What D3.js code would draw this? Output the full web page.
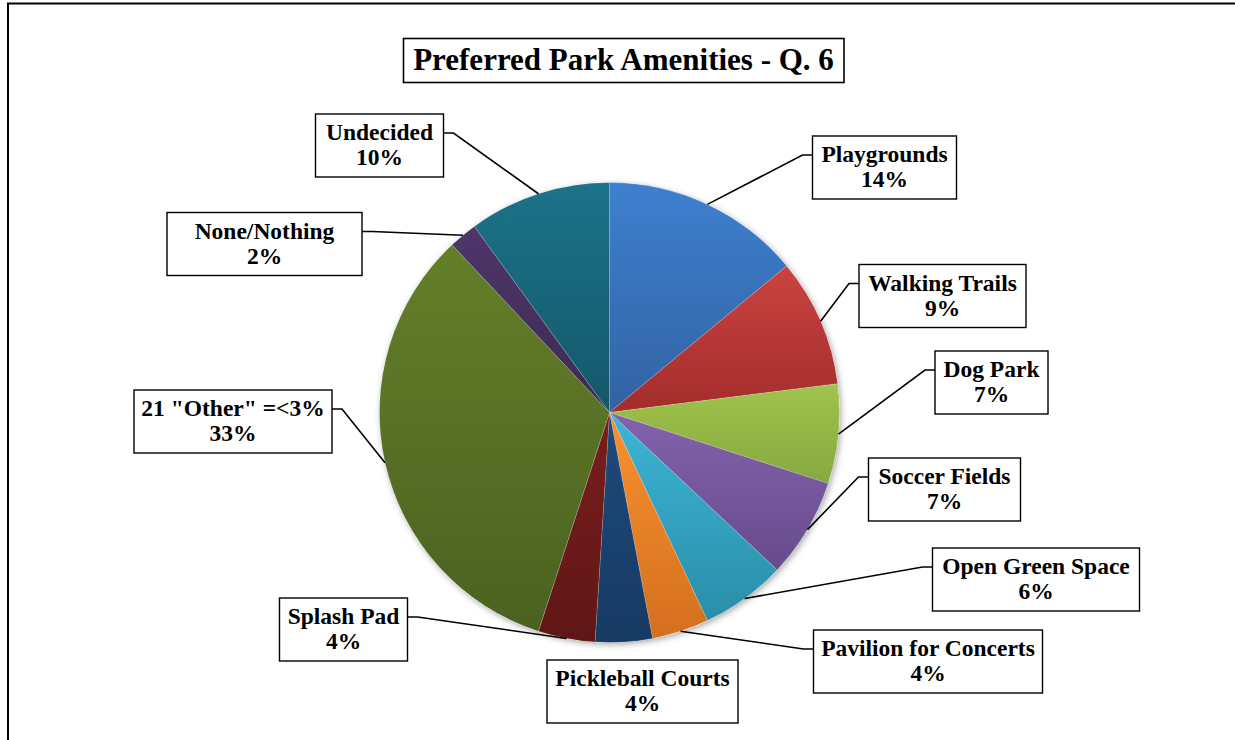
<!DOCTYPE html>
<html>
<head>
<meta charset="utf-8">
<script src="https://cdn.jsdelivr.net/npm/d3@7"></script>
<style>
  html, body { margin: 0; padding: 0; background: #fff; }
  svg { display: block; }
</style>
</head>
<body>
<svg id="chart" width="1235" height="740"></svg>
<script>
const title = "Preferred Park Amenities - Q. 6";
const categories = ["Playgrounds", "Walking Trails", "Dog Park", "Soccer Fields", "Open Green Space",
  "Pavilion for Concerts", "Pickleball Courts", "Splash Pad", "21 \"Other\" =<3%", "None/Nothing", "Undecided"];
const values = [14, 9, 7, 7, 6, 4, 4, 4, 33, 2, 10];
const colorsTop = ["#3e80cf", "#cb4340", "#a0c44c", "#8263ad", "#3db5d6", "#f8922f", "#1e4a7d", "#7a1e1c", "#647f29", "#4e3669", "#1c7389"];
const colorsBottom = ["#3262a3", "#a22d2c", "#87a83f", "#674b8c", "#2a8ea9", "#d46f1f", "#173a63", "#5e1716", "#4b6120", "#3c2a52", "#145769"];
const showLeader = [true, true, true, true, true, true, false, true, true, true, true];
// label box centers, as offsets from the pie centre (layout)
const labelOffsets = [[275, -245], [333, -116.5], [382, -30], [335, 77], [426.5, 167], [318.5, 249],
  [33, 279], [-266, 217], [-376.5, 9], [-345, -168.5], [-230, -267]];
// label box widths (layout)
const boxWidths = [144, 167, 113, 152, 207, 229, 191, 128, 198, 195, 128];

const W = 1235, H = 740;
const cx = 609.5, cy = 412.5, R = 230;
const svg = d3.select("#chart");
const FONT = "'Liberation Serif', 'Times New Roman', serif";

// outer frame
svg.append("rect").attr("x", 8).attr("y", 3.5).attr("width", W + 20).attr("height", H + 20)
  .attr("fill", "none").attr("stroke", "#000").attr("stroke-width", 2);

const defs = svg.append("defs");
const shadow = defs.append("filter").attr("id", "shadow").attr("x", "-10%").attr("y", "-10%").attr("width", "120%").attr("height", "120%");
shadow.append("feDropShadow").attr("dx", 1.5).attr("dy", 2).attr("stdDeviation", 3)
  .attr("flood-color", "#000").attr("flood-opacity", 0.35);

values.forEach((v, i) => {
  const g = defs.append("linearGradient").attr("id", "grad" + i)
    .attr("x1", 0).attr("y1", 0).attr("x2", 0).attr("y2", 1);
  g.append("stop").attr("offset", "0%").attr("stop-color", colorsTop[i]);
  g.append("stop").attr("offset", "100%").attr("stop-color", colorsBottom[i]);
});

// title
const tg = svg.append("g");
tg.append("rect").attr("x", 403.5).attr("y", 38.5).attr("width", 440.5).attr("height", 44)
  .attr("fill", "#fff").attr("stroke", "#000").attr("stroke-width", 1.6);
tg.append("text").attr("x", 623.5).attr("y", 70).attr("text-anchor", "middle")
  .attr("font-family", FONT).attr("font-weight", "bold").attr("font-size", 31).attr("fill", "#000").text(title);

// pie
const pie = d3.pie().sort(null).value(d => d);
const arcs = pie(values);
const arc = d3.arc().innerRadius(0).outerRadius(R);

const pg = svg.append("g").attr("transform", `translate(${cx},${cy})`);
const shadowG = pg.append("g").attr("filter", "url(#shadow)");
shadowG.append("circle").attr("r", R).attr("fill", "#fff");
pg.selectAll("path.slice").data(arcs).enter().append("path")
  .attr("class", "slice")
  .attr("d", arc)
  .attr("fill", (d, i) => `url(#grad${i})`)
  .attr("stroke", "rgba(255,255,255,0.3)").attr("stroke-width", 0.5);

// labels
const lg = svg.append("g");
arcs.forEach((d, i) => {
  const bx = cx + labelOffsets[i][0], by = cy + labelOffsets[i][1];
  const w = boxWidths[i], h = 63;
  const left = bx - w / 2, right = bx + w / 2, top = by - h / 2;
  if (showLeader[i]) {
    const mid = (d.startAngle + d.endAngle) / 2;
    const px = cx + R * Math.sin(mid), py = cy - R * Math.cos(mid);
    const onRight = bx > cx;
    const sx = onRight ? left : right;
    const sy = top + 19;
    const ex = onRight ? sx - 10 : sx + 10;
    lg.append("path").attr("d", `M${sx},${sy}L${ex},${sy}L${px},${py}`)
      .attr("fill", "none").attr("stroke", "#000").attr("stroke-width", 1.6);
  }
  const g = lg.append("g");
  g.append("rect").attr("x", left).attr("y", top).attr("width", w).attr("height", h)
    .attr("fill", "#fff").attr("stroke", "#000").attr("stroke-width", 1.4);
  g.append("text").attr("x", bx).attr("y", top + 26.3).attr("text-anchor", "middle")
    .attr("font-family", FONT).attr("font-weight", "bold").attr("font-size", 23.5).attr("fill", "#000")
    .text(categories[i]);
  g.append("text").attr("x", bx).attr("y", top + 51.3).attr("text-anchor", "middle")
    .attr("font-family", FONT).attr("font-weight", "bold").attr("font-size", 23.5).attr("fill", "#000")
    .text(values[i] + "%");
});
</script>
</body>
</html>
